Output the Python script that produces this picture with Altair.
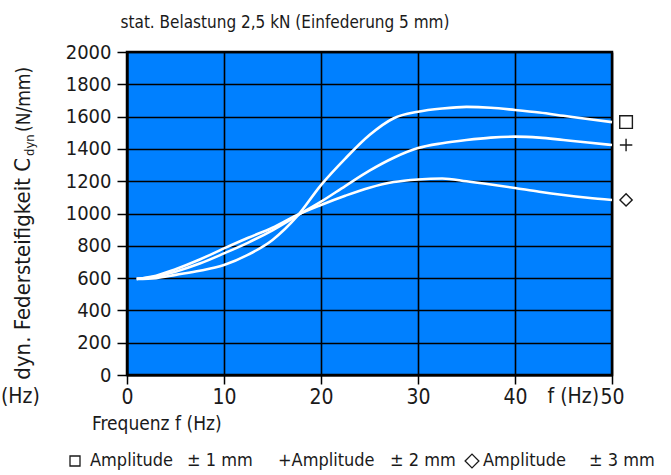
import altair as alt
import pandas as pd

FONT = "Liberation Sans Narrow, DejaVu Sans Condensed, Arial Narrow, sans-serif"
INK = "#1a1a1a"

# data
freq = [1, 3, 5, 7.5, 10, 12.5, 15, 17.5, 20, 22.5, 25, 27.5, 30, 32.5, 35, 37.5, 40, 42.5, 45, 47.5, 50]
amp_1mm = [595, 600, 620, 645, 681, 745, 836, 980, 1176, 1340, 1486, 1590, 1630, 1650, 1660, 1655, 1641, 1625, 1605, 1585, 1566]
amp_2mm = [595, 610, 640, 690, 753, 820, 896, 985, 1073, 1170, 1265, 1345, 1405, 1435, 1455, 1470, 1476, 1470, 1455, 1440, 1424]
amp_3mm = [595, 615, 655, 715, 784, 850, 912, 990, 1053, 1110, 1160, 1195, 1211, 1217, 1200, 1180, 1158, 1135, 1115, 1098, 1084]
series_names = ["Amplitude ± 1 mm", "Amplitude ± 2 mm", "Amplitude ± 3 mm"]
series_values = [amp_1mm, amp_2mm, amp_3mm]
marker_shapes = ["square", "M-1,0H1M0,-1V1", "diamond"]
marker_sizes = [160, 150, 250]
marker_freq = 51.45

x_ticks = [0, 10, 20, 30, 40, 50]
y_ticks = list(range(0, 2001, 200))

rows = []
for name, vals in zip(series_names, series_values):
    for f, c in zip(freq, vals):
        rows.append({"f": f, "c": c, "s": name})
df = pd.DataFrame(rows)

mk = pd.DataFrame({"f": [marker_freq] * 3, "c": [v[-1] for v in series_values], "s": series_names})

xs = alt.Scale(domain=[0, 50], nice=False, zero=False)
ys = alt.Scale(domain=[0, 2000], nice=False)

x_axis = alt.Axis(values=x_ticks, title=None, tickSize=9, labelFontSize=21, labelFont=FONT, format="d",
                  labelColor=INK, labelPadding=2, grid=True, domainWidth=2, tickWidth=1.5,
                  labelFlush=False, labelOverlap=False)
y_axis = alt.Axis(values=y_ticks, title=None, tickSize=10, labelFontSize=20, labelFont=FONT, format="d",
                  labelColor=INK, labelPadding=6, grid=True, domainWidth=2, tickWidth=1.5,
                  labelOverlap=False)

lines = alt.Chart(df).mark_line(color="white", strokeWidth=2.6, interpolate="monotone").encode(
    x=alt.X("f:Q", scale=xs, axis=x_axis),
    y=alt.Y("c:Q", scale=ys, axis=y_axis),
    detail="s:N",
)

markers = alt.Chart(mk).mark_point(filled=False, color=INK, strokeWidth=1.4, opacity=1, clip=False).encode(
    x=alt.X("f:Q", scale=xs, axis=x_axis),
    y=alt.Y("c:Q", scale=ys, axis=y_axis),
    shape=alt.Shape("s:N", scale=alt.Scale(domain=series_names, range=marker_shapes), legend=None),
    size=alt.Size("s:N", scale=alt.Scale(domain=series_names, range=marker_sizes), legend=None),
)


def txt(text, x, y, size, align="left", angle=0, baseline="middle"):
    return alt.Chart(pd.DataFrame({"t": [text]})).mark_text(
        font=FONT, fontSize=size, align=align, baseline=baseline, angle=angle, color=INK
    ).encode(text="t:N", x=alt.value(x), y=alt.value(y))


def sym(shape, x, y, size):
    return alt.Chart(pd.DataFrame({"t": [0]})).mark_point(
        shape=shape, filled=False, color=INK, strokeWidth=1.3, size=size, opacity=1
    ).encode(x=alt.value(x), y=alt.value(y))


texts = [
    txt("stat. Belastung 2,5 kN (Einfederung 5 mm)", 158, -29, 17, align="center"),
    txt("dyn. Federsteifigkeit C", -97, 106, 22, align="right", angle=270, baseline="alphabetic"),
    txt("dyn", -93, 104, 13, align="left", angle=270, baseline="alphabetic"),
    txt("(N/mm)", -97, 80, 19, align="left", angle=270, baseline="alphabetic"),
    txt("f (Hz)", 472, 345, 21, align="right"),
    txt("(Hz)", -126, 345, 21, align="left"),
    txt("Frequenz f (Hz)", -35, 372, 19, align="left"),
    txt("Amplitude", -37, 409, 18),
    txt("± 1 mm", 60, 409, 18),
    txt("+Amplitude", 151, 409, 18),
    txt("± 2 mm", 263, 409, 18),
    txt("Amplitude", 356, 409, 18),
    txt("± 3 mm", 462, 409, 18),
]
syms = [
    sym("square", -52, 409, 100),
    sym("diamond", 345, 409, 190),
]

chart = alt.layer(lines, markers, *texts, *syms).properties(
    width=485,
    height=323,
    autosize=alt.AutoSizeParams(type="none"),
    padding={"left": 127, "top": 52, "right": 59, "bottom": 100},
    background="white",
).configure_view(
    fill="#0080FF", stroke="black", strokeWidth=2.5
).configure_axis(
    domainColor="black", tickColor="black", gridColor="black", gridWidth=1.6, gridOpacity=1
)

chart.save("out.html", embed_options={"renderer": "svg", "actions": False})
